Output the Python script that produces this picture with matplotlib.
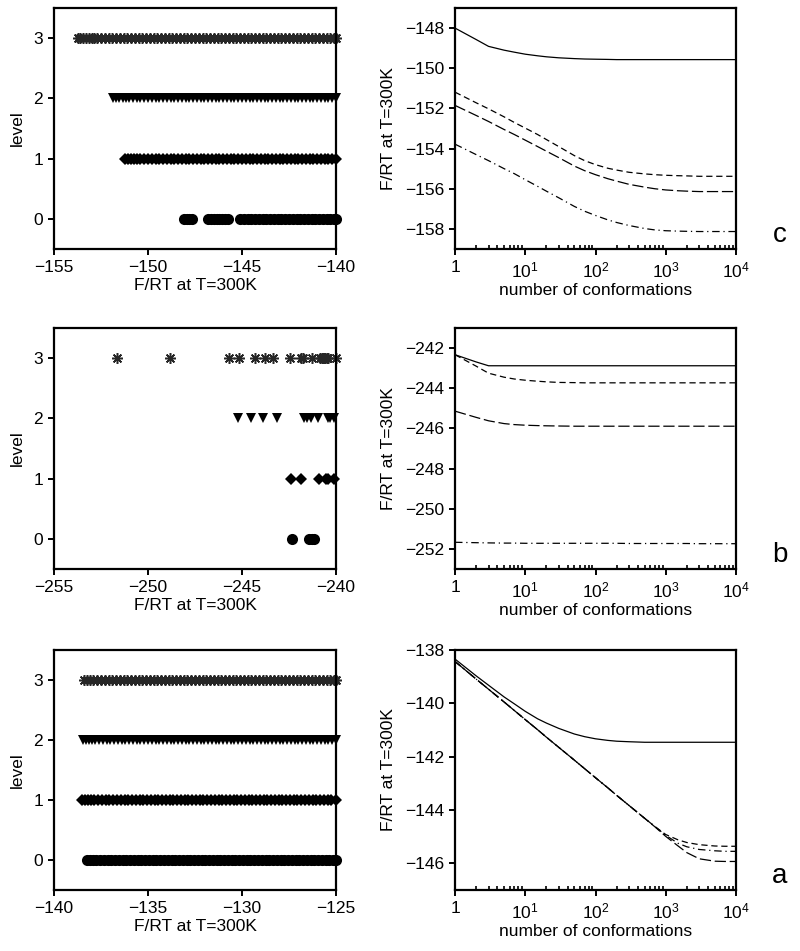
import matplotlib
matplotlib.use("Agg")
import matplotlib.pyplot as plt
from matplotlib.ticker import NullFormatter, LogLocator

plt.rcParams['font.family'] = ['Liberation Sans', 'DejaVu Sans']
plt.rcParams['mathtext.fontset'] = 'custom'
plt.rcParams['mathtext.rm'] = 'Liberation Sans'

# ---------------- data: left panels (F/RT values of conformations per level) -------------
# panel c
c_lvl3 = [-153.75, -153.6, -153.45, -153.3, -153.15, -153.0, -152.85, -152.7, -152.5, -152.3,
          -152.1, -151.9, -151.7, -151.5, -151.3, -151.1, -150.9, -150.7, -150.5, -150.3,
          -150.1, -149.9, -149.7, -149.5, -149.3, -149.1, -148.9, -148.7, -148.5, -148.3,
          -148.1, -147.9, -147.7, -147.5, -147.3, -147.1, -146.9, -146.7, -146.5, -146.3,
          -146.1, -145.9, -145.7, -145.5, -145.3, -145.1, -144.9, -144.7, -144.5, -144.3,
          -144.1, -143.9, -143.7, -143.5, -143.3, -143.1, -142.9, -142.7, -142.5, -142.3,
          -142.1, -141.9, -141.7, -141.5, -141.3, -141.1, -140.9, -140.7, -140.5, -140.3,
          -140.1, -140.0]
c_lvl2 = [-151.85, -151.7, -151.55, -151.35, -151.15, -151.0, -150.8, -150.6, -150.4, -150.2,
          -150.0, -149.8, -149.6, -149.4, -149.2, -149.0, -148.8, -148.6, -148.4, -148.2,
          -148.0, -147.8, -147.6, -147.4, -147.2, -147.0, -146.8, -146.6, -146.4, -146.2,
          -146.0, -145.8, -145.6, -145.4, -145.2, -145.0, -144.8, -144.6, -144.4, -144.2,
          -144.0, -143.8, -143.6, -143.4, -143.2, -143.0, -142.8, -142.6, -142.4, -142.2,
          -142.0, -141.8, -141.6, -141.4, -141.2, -141.0, -140.8, -140.6, -140.4, -140.2,
          -140.0]
c_lvl1 = [-151.2, -151.05, -150.9, -150.75, -150.6, -150.4, -150.2, -150.0, -149.8, -149.6,
          -149.4, -149.2, -149.0, -148.8, -148.6, -148.4, -148.2, -148.0, -147.8, -147.6,
          -147.4, -147.2, -147.0, -146.8, -146.6, -146.4, -146.2, -146.0, -145.8, -145.6,
          -145.4, -145.2, -145.0, -144.8, -144.6, -144.4, -144.2, -144.0, -143.8, -143.6,
          -143.4, -143.2, -143.0, -142.8, -142.6, -142.4, -142.2, -142.0, -141.8, -141.6,
          -141.4, -141.2, -141.0, -140.8, -140.6, -140.4, -140.2, -140.0]
c_lvl0 = [-148.1, -147.95, -147.8, -147.65, -146.8, -146.65, -146.5, -146.35, -146.2, -146.05,
          -145.9, -145.75, -145.1, -144.9, -144.7, -144.5, -144.3, -144.1, -143.9, -143.7,
          -143.5, -143.3, -143.1, -142.9, -142.7, -142.5, -142.3, -142.1, -141.9, -141.7,
          -141.5, -141.3, -141.1, -140.9, -140.7, -140.5, -140.3, -140.1, -140.0]

# panel b
b_lvl3 = [-251.67, -248.83, -245.68, -245.14, -244.32, -243.78, -243.37, -242.46, -241.85,
          -241.74, -241.29, -240.85, -240.76, -240.7, -240.65, -240.59, -240.5, -240.41, -240.0]
b_lvl2 = [-245.2, -244.54, -243.87, -243.12, -241.7, -241.55, -241.35, -240.94, -240.41,
          -240.3, -240.1]
b_lvl1 = [-242.39, -241.86, -240.9, -240.53, -240.4, -240.1]
b_lvl0 = [-242.36, -241.42, -241.3, -241.17]

# panel a
a_lvl3 = [-138.4, -138.25, -138.1, -137.9, -137.7, -137.5, -137.3, -137.1, -136.9, -136.7,
          -136.5, -136.3, -136.1, -135.9, -135.7, -135.5, -135.3, -135.1, -134.9, -134.7,
          -134.5, -134.3, -134.1, -133.9, -133.7, -133.5, -133.3, -133.1, -132.9, -132.7,
          -132.5, -132.3, -132.1, -131.9, -131.7, -131.5, -131.3, -131.1, -130.9, -130.7,
          -130.5, -130.3, -130.1, -129.9, -129.7, -129.5, -129.3, -129.1, -128.9, -128.7,
          -128.5, -128.3, -128.1, -127.9, -127.7, -127.5, -127.3, -127.1, -126.9, -126.7,
          -126.5, -126.3, -126.1, -125.9, -125.7, -125.5, -125.3, -125.1, -125.0]
a_lvl2 = [-138.45, -138.3, -138.15, -138.0, -137.8, -137.6, -137.4, -137.2, -137.0, -136.8,
          -136.6, -136.4, -136.2, -136.0, -135.8, -135.6, -135.4, -135.2, -135.0, -134.8,
          -134.6, -134.4, -134.2, -134.0, -133.8, -133.6, -133.4, -133.2, -133.0, -132.8,
          -132.6, -132.4, -132.2, -132.0, -131.8, -131.6, -131.4, -131.2, -131.0, -130.8,
          -130.6, -130.4, -130.2, -130.0, -129.8, -129.6, -129.4, -129.2, -129.0, -128.8,
          -128.6, -128.4, -128.2, -128.0, -127.8, -127.6, -127.4, -127.2, -127.0, -126.8,
          -126.6, -126.4, -126.2, -126.0, -125.8, -125.6, -125.4, -125.2, -125.0]
a_lvl1 = [-138.5, -138.35, -138.2, -138.05, -137.85, -137.65, -137.45, -137.25, -137.05,
          -136.85, -136.65, -136.45, -136.25, -136.05, -135.85, -135.65, -135.45, -135.25,
          -135.05, -134.85, -134.65, -134.45, -134.25, -134.05, -133.85, -133.65, -133.45,
          -133.25, -133.05, -132.85, -132.65, -132.45, -132.25, -132.05, -131.85, -131.65,
          -131.45, -131.25, -131.05, -130.85, -130.65, -130.45, -130.25, -130.05, -129.85,
          -129.65, -129.45, -129.25, -129.05, -128.85, -128.65, -128.45, -128.25, -128.05,
          -127.85, -127.65, -127.45, -127.25, -127.05, -126.85, -126.65, -126.45, -126.25,
          -126.05, -125.85, -125.65, -125.45, -125.25, -125.0]
a_lvl0 = [-138.25, -138.1, -137.95, -137.75, -137.55, -137.35, -137.15, -136.95, -136.75,
          -136.55, -136.35, -136.15, -135.95, -135.75, -135.55, -135.35, -135.15, -134.95,
          -134.75, -134.55, -134.35, -134.15, -133.95, -133.75, -133.55, -133.35, -133.15,
          -132.95, -132.75, -132.55, -132.35, -132.15, -131.95, -131.75, -131.55, -131.35,
          -131.15, -130.95, -130.75, -130.55, -130.35, -130.15, -129.95, -129.75, -129.55,
          -129.35, -129.15, -128.95, -128.75, -128.55, -128.35, -128.15, -127.95, -127.75,
          -127.55, -127.35, -127.15, -126.95, -126.75, -126.55, -126.35, -126.15, -125.95,
          -125.75, -125.55, -125.35, -125.15, -125.0]

# ---------------- data: right panels (F/RT vs number of conformations) -----------------
n_conf = [1, 2, 3, 5, 7, 10, 15, 20, 30, 50, 70, 100, 150, 200, 300, 500, 700, 1000,
          1500, 2000, 3000, 5000, 7000, 10000]

c_solid    = [-148.0, -148.57, -148.91, -149.1, -149.2, -149.3, -149.38, -149.43, -149.48,
              -149.52, -149.54, -149.55, -149.56, -149.57, -149.57, -149.57, -149.57, -149.57,
              -149.57, -149.57, -149.57, -149.57, -149.57, -149.57]
c_dash     = [-151.19, -151.72, -152.02, -152.42, -152.7, -152.98, -153.3, -153.55, -153.9,
              -154.35, -154.6, -154.8, -154.98, -155.07, -155.18, -155.26, -155.3, -155.33,
              -155.35, -155.36, -155.38, -155.38, -155.38, -155.38]
c_longdash = [-151.85, -152.35, -152.65, -153.05, -153.3, -153.58, -153.9, -154.13, -154.45,
              -154.87, -155.1, -155.3, -155.5, -155.62, -155.78, -155.92, -156.0, -156.06,
              -156.1, -156.12, -156.14, -156.14, -156.14, -156.14]
c_dashdot  = [-153.78, -154.3, -154.6, -155.0, -155.25, -155.55, -155.88, -156.12, -156.45,
              -156.88, -157.12, -157.33, -157.55, -157.68, -157.83, -157.98, -158.05, -158.09,
              -158.11, -158.12, -158.13, -158.13, -158.13, -158.13]

b_solid    = [-242.33, -242.69, -242.88, -242.88, -242.88, -242.88, -242.88, -242.88, -242.88,
              -242.88, -242.88, -242.88, -242.88, -242.88, -242.88, -242.88, -242.88, -242.88,
              -242.88, -242.88, -242.88, -242.88, -242.88, -242.88]
b_dash     = [-242.33, -242.9, -243.25, -243.45, -243.54, -243.6, -243.65, -243.68, -243.71,
              -243.72, -243.73, -243.73, -243.73, -243.73, -243.73, -243.73, -243.73, -243.73,
              -243.73, -243.73, -243.73, -243.73, -243.73, -243.73]
b_longdash = [-245.14, -245.45, -245.62, -245.76, -245.81, -245.84, -245.86, -245.87, -245.88,
              -245.89, -245.89, -245.89, -245.89, -245.89, -245.89, -245.89, -245.89, -245.89,
              -245.89, -245.89, -245.89, -245.89, -245.89, -245.89]
b_dashdot  = [-251.67, -251.69, -251.7, -251.71, -251.71, -251.72, -251.72, -251.72, -251.72,
              -251.72, -251.72, -251.72, -251.72, -251.72, -251.73, -251.73, -251.73, -251.73,
              -251.73, -251.73, -251.74, -251.74, -251.74, -251.74]

a_solid    = [-138.34, -138.97, -139.32, -139.76, -140.02, -140.3, -140.58, -140.74, -140.94,
              -141.15, -141.25, -141.33, -141.39, -141.42, -141.44, -141.46, -141.46, -141.46,
              -141.46, -141.46, -141.46, -141.46, -141.46, -141.46]
a_dash     = [-138.43, -139.09, -139.47, -139.95, -140.27, -140.61, -140.99, -141.27, -141.65,
              -142.13, -142.45, -142.79, -143.17, -143.45, -143.83, -144.31, -144.62, -144.92,
              -145.12, -145.22, -145.3, -145.35, -145.36, -145.36]
a_longdash = [-138.43, -139.09, -139.47, -139.95, -140.27, -140.61, -140.99, -141.27, -141.65,
              -142.13, -142.45, -142.79, -143.17, -143.45, -143.83, -144.31, -144.63, -144.99,
              -145.35, -145.6, -145.83, -145.92, -145.93, -145.93]
a_dashdot  = [-138.43, -139.09, -139.47, -139.95, -140.27, -140.61, -140.99, -141.27, -141.65,
              -142.13, -142.45, -142.79, -143.17, -143.45, -143.83, -144.31, -144.62, -144.95,
              -145.25, -145.38, -145.48, -145.53, -145.55, -145.55]

levels = [0, 1, 2, 3]
panel_letters = ['c', 'b', 'a']

left_data = [
    (c_lvl0, c_lvl1, c_lvl2, c_lvl3, (-155, -140), [-155, -150, -145, -140]),
    (b_lvl0, b_lvl1, b_lvl2, b_lvl3, (-255, -240), [-255, -250, -245, -240]),
    (a_lvl0, a_lvl1, a_lvl2, a_lvl3, (-140, -125), [-140, -135, -130, -125]),
]
right_data = [
    (c_solid, c_dash, c_longdash, c_dashdot, (-159, -147), [-158, -156, -154, -152, -150, -148]),
    (b_solid, b_dash, b_longdash, b_dashdot, (-253, -241), [-252, -250, -248, -246, -244, -242]),
    (a_solid, a_dash, a_longdash, a_dashdot, (-147, -138), [-146, -144, -142, -140, -138]),
]

# ---------------- figure -----------------
W, H = 800, 951
fig = plt.figure(figsize=(W / 100, H / 100), dpi=100)

rows = [(8, 249), (328, 569), (650, 890)]  # top, bottom pixel of each row
FS = 12.5
SPINE = 1.6


def px_axes(x0, x1, y0, y1):
    return fig.add_axes([x0 / W, 1 - y1 / H, (x1 - x0) / W, (y1 - y0) / H])


def style(ax):
    for s in ax.spines.values():
        s.set_linewidth(SPINE)
    ax.tick_params(which='major', direction='out', length=4, width=1.4, labelsize=FS, pad=4)


for i, (top, bot) in enumerate(rows):
    # ---- left scatter panel
    l0, l1, l2, l3, xlim, xt = left_data[i]
    ax = px_axes(54, 336, top, bot)
    style(ax)
    ax.plot(l3, [levels[3]] * len(l3), linestyle='none', marker=(8, 2, 0), ms=7.8,
            mec='#262626', mew=1.1, clip_on=False)
    ax.plot(l2, [levels[2]] * len(l2), linestyle='none', marker='v', ms=7.6, color='black',
            mew=0, clip_on=False)
    ax.plot(l1, [levels[1]] * len(l1), linestyle='none', marker='D', ms=6.6, color='black',
            mew=0, clip_on=False)
    ax.plot(l0, [levels[0]] * len(l0), linestyle='none', marker='o', ms=8.0, color='black',
            mew=0, clip_on=False)
    ax.set_xlim(*xlim)
    ax.set_ylim(-0.5, 3.5)
    ax.set_xticks(xt)
    ax.set_yticks(levels)
    ax.set_xlabel('F/RT at T=300K', fontsize=FS, labelpad=2)
    ax.set_ylabel('level', fontsize=FS, labelpad=6)

    # ---- right line panel
    s, d, ld, dd, ylim, yt = right_data[i]
    ax2 = px_axes(455, 736, top, bot)
    style(ax2)
    lw = 0.9
    ax2.plot(n_conf, s, color='black', lw=lw, linestyle='-')
    ax2.plot(n_conf, d, color='black', lw=lw, linestyle=(0, (5, 3)))
    ax2.plot(n_conf, ld, color='black', lw=lw, linestyle=(0, (9, 3)))
    ax2.plot(n_conf, dd, color='black', lw=lw, linestyle=(0, (6, 3, 1, 3)))
    ax2.set_xscale('log')
    ax2.set_xlim(1, 1e4)
    ax2.set_ylim(*ylim)
    ax2.set_yticks(yt)
    ax2.set_xticks([1, 10, 100, 1000, 10000])
    ax2.set_xticklabels(['1', r'$\mathregular{10^1}$', r'$\mathregular{10^2}$',
                         r'$\mathregular{10^3}$', r'$\mathregular{10^4}$'])
    ax2.xaxis.set_minor_locator(LogLocator(base=10, subs=range(2, 10), numticks=20))
    ax2.xaxis.set_minor_formatter(NullFormatter())
    ax2.tick_params(axis='x', which='minor', direction='in', length=3, width=1.2)
    ax2.set_xlabel('number of conformations', fontsize=FS, labelpad=2)
    ax2.set_ylabel('F/RT at T=300K', fontsize=FS, labelpad=6)

    fig.text(780 / W, 1 - (bot - 14) / H, panel_letters[i], fontsize=20,
             ha='center', va='center')

fig.savefig('out.png', dpi=100)
